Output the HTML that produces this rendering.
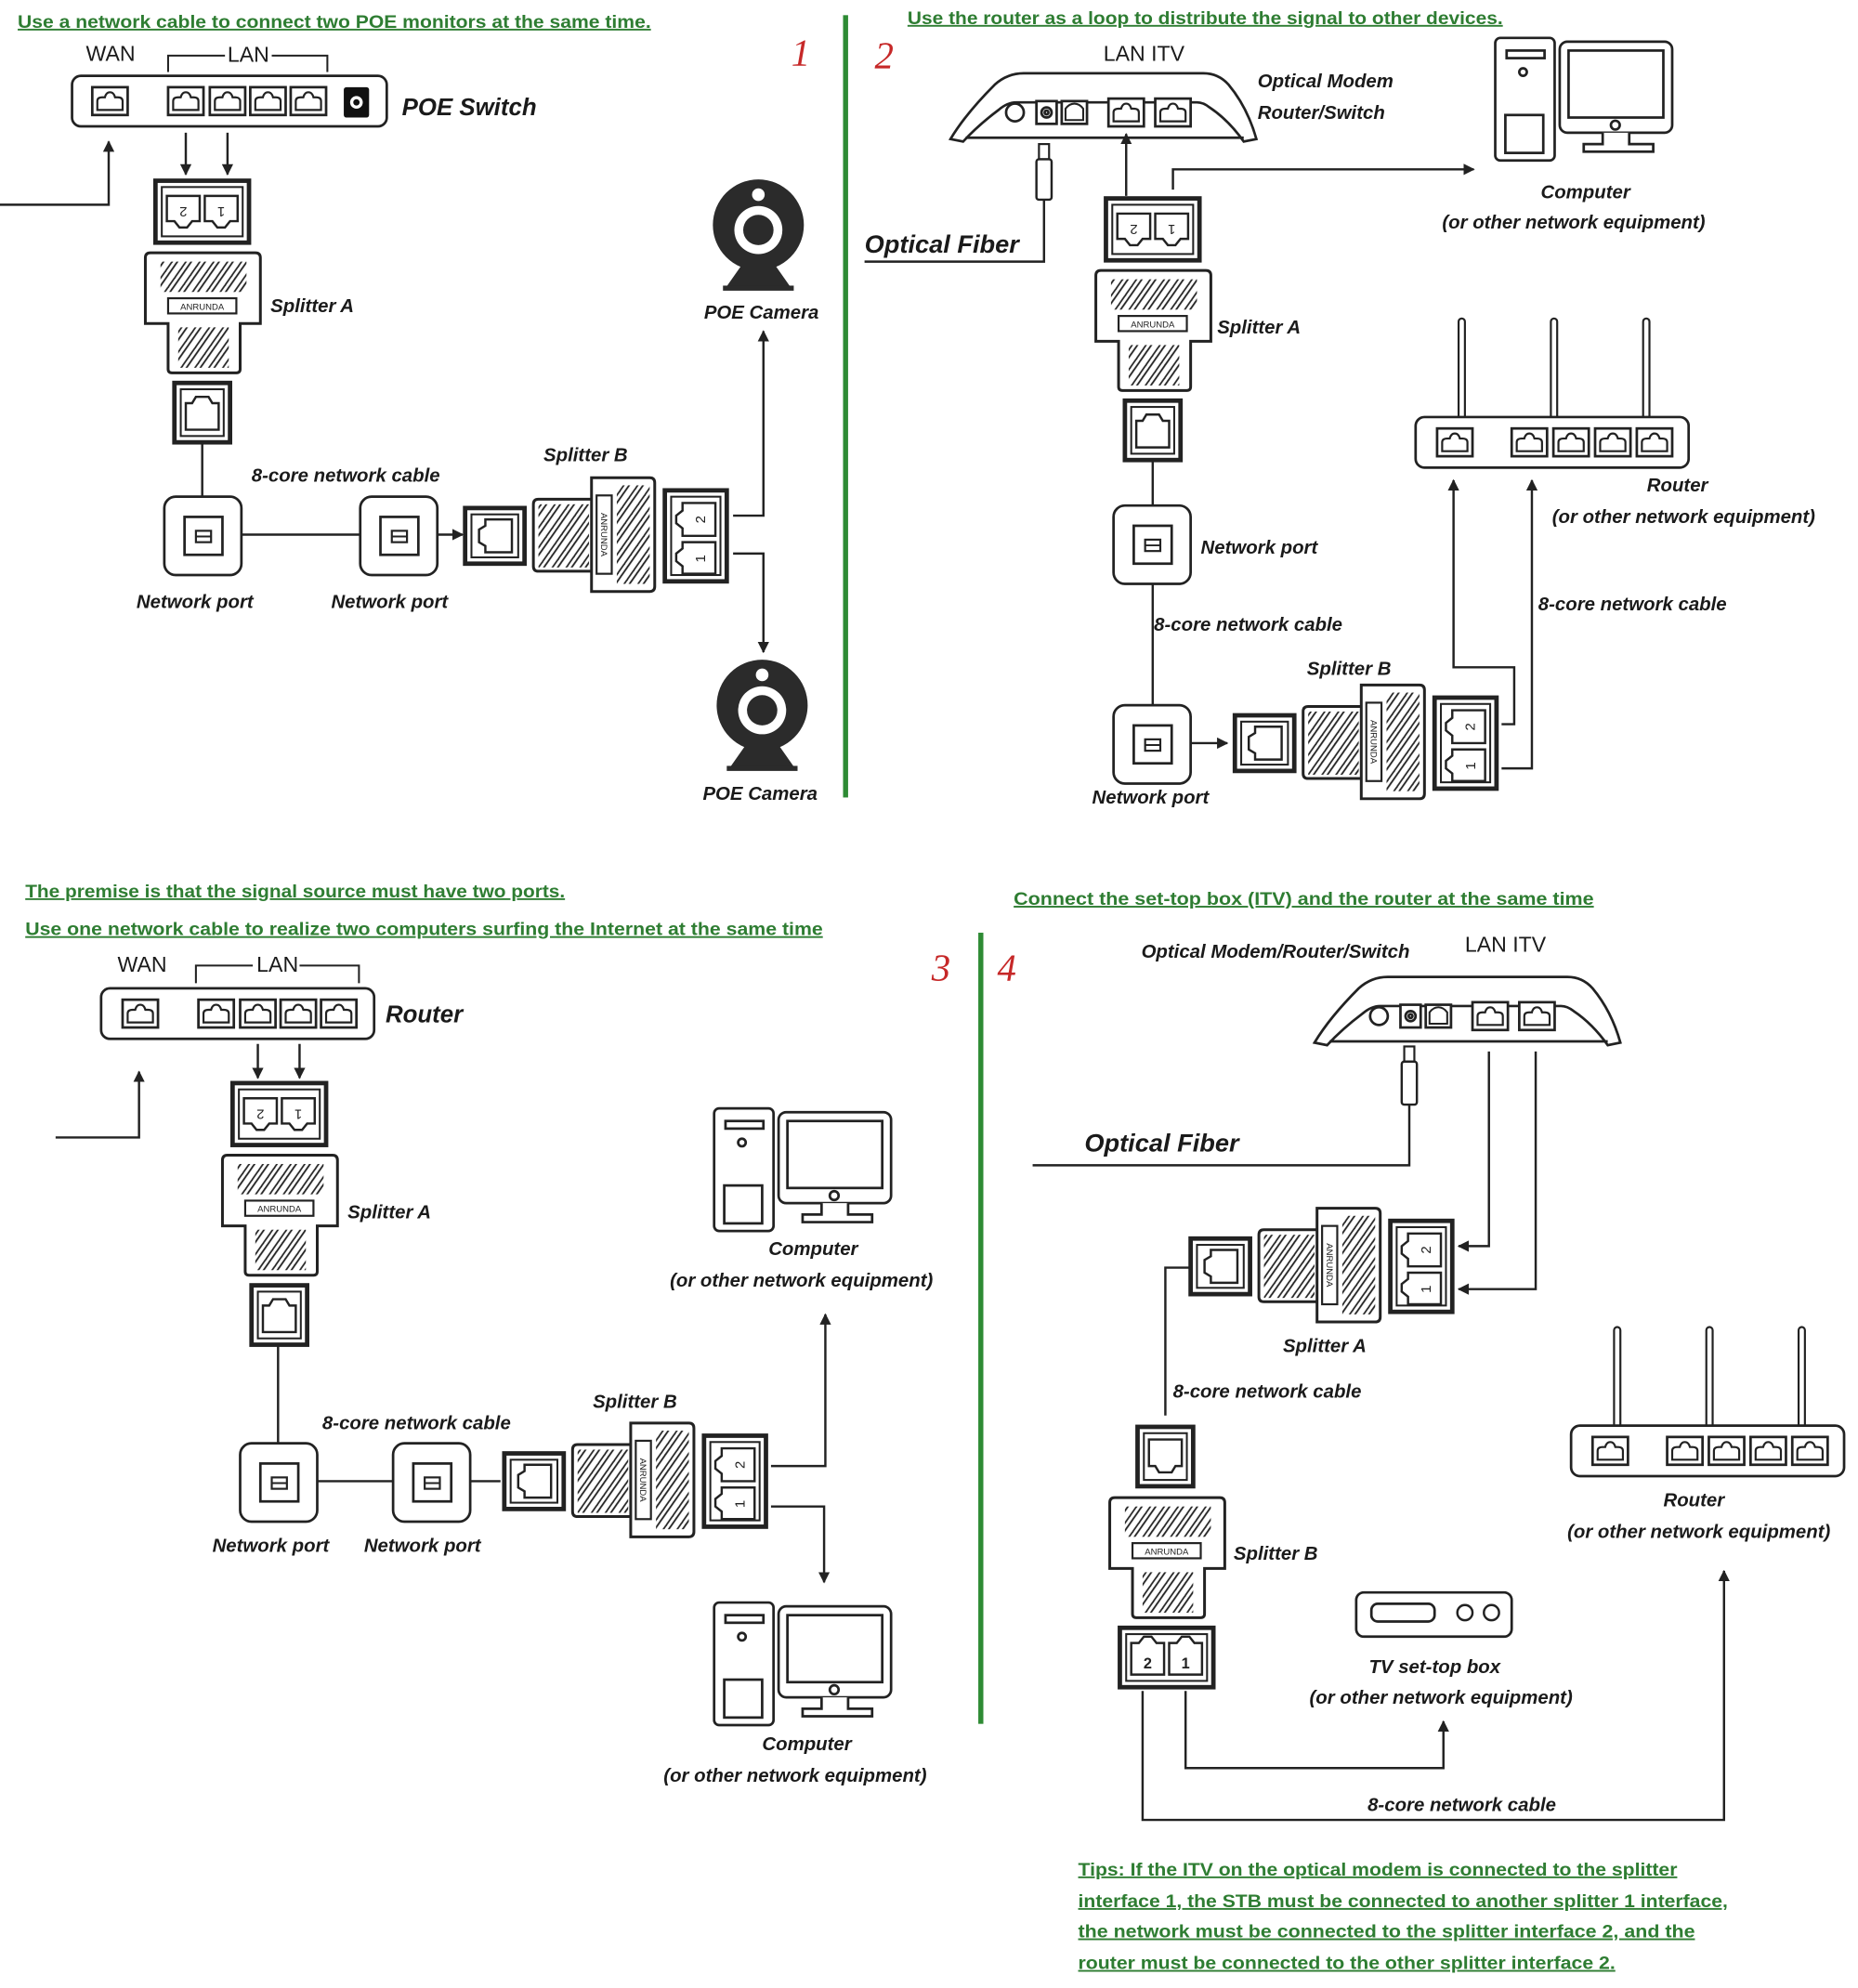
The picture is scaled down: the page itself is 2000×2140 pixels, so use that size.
<!DOCTYPE html>
<html><head><meta charset="utf-8"><style>
html,body{margin:0;padding:0;background:#fff;}
svg{display:block;}
.l{font-family:"Liberation Sans",sans-serif;font-style:italic;font-weight:bold;font-size:15px;fill:#1a1a1a;}
.t{font-family:"Liberation Sans",sans-serif;font-size:17px;fill:#1a1a1a;}
.g{font-family:"Liberation Sans",sans-serif;font-weight:bold;font-size:14px;fill:#2e7d32;text-decoration:underline;}
.n{font-family:"Liberation Serif",serif;font-style:italic;font-size:30px;fill:#c62828;}
.big{font-family:"Liberation Sans",sans-serif;font-style:italic;font-weight:bold;font-size:20px;fill:#1a1a1a;}
.tiny{font-family:"Liberation Sans",sans-serif;font-size:7px;fill:#222;}
</style></head><body>
<svg width="2000" height="2140" viewBox="0 0 1470 1573" preserveAspectRatio="none" xmlns="http://www.w3.org/2000/svg">
<defs>
<marker id="ah" viewBox="0 0 10 10" refX="9" refY="5" markerWidth="9" markerHeight="9" markerUnits="userSpaceOnUse" orient="auto"><path d="M0,0 L10,5 L0,10 z" fill="#222"/></marker>
<pattern id="hatch" patternUnits="userSpaceOnUse" width="9" height="9" patternTransform="rotate(-55)"><rect width="9" height="9" fill="#fff"/><rect x="-1" y="2.5" width="11" height="3.5" rx="1.7" fill="none" stroke="#222" stroke-width="1.3"/></pattern>
<g id="pi"><rect x="-14" y="-11" width="28" height="22" fill="#fff" stroke="#222" stroke-width="2"/><path d="M-10,7 V0 Q-10,-3 -6,-3 L-4,-3 Q-3,-7 0,-7 Q3,-7 4,-3 L6,-3 Q10,-3 10,0 V7 Z" fill="none" stroke="#222" stroke-width="1.6"/></g>
<g id="wp"><rect x="0" y="0" width="61" height="62" rx="9" fill="#fff" stroke="#222" stroke-width="2"/><rect x="16" y="16" width="30" height="30" fill="none" stroke="#222" stroke-width="2"/><rect x="25" y="27" width="12" height="9" fill="none" stroke="#222" stroke-width="1.6"/><line x1="25" y1="31.5" x2="37" y2="31.5" stroke="#222" stroke-width="1.4"/></g>
<g id="jack"><rect x="0" y="0" width="44" height="47" fill="#fff" stroke="#222" stroke-width="3.5"/><rect x="5" y="5" width="34" height="37" fill="none" stroke="#222" stroke-width="1.5"/><path d="M9,37 V16 H14 L17,11 H27 L30,16 H35 V37 Z" fill="none" stroke="#222" stroke-width="1.8"/></g>
<g id="sbody" stroke="#222" fill="#fff">
 <path d="M-8,61 Q-8,57 -4,57 H79 Q83,57 83,61 V113 H67 V149 Q67,152 64,152 H13 Q10,152 10,149 V113 H-8 Z" stroke-width="2.2"/>
 <rect x="4" y="64" width="68" height="24" fill="url(#hatch)" stroke="none"/>
 <rect x="10" y="93" width="54" height="12" stroke-width="1.6"/>
 <text x="37" y="102" class="tiny" text-anchor="middle" stroke="none">ANRUNDA</text>
 <rect x="18" y="116" width="40" height="32" fill="url(#hatch)" stroke="none"/>
</g>
<g id="splitV" stroke="#222" fill="#fff">
 <rect x="0" y="0" width="74" height="49" stroke-width="3.5"/>
 <rect x="5" y="5" width="64" height="39" stroke-width="1.5"/>
 <path d="M9,12 H35 V32 H29 L25,37 H19 L15,32 H9 Z" stroke-width="1.8"/>
 <path d="M39,12 H65 V32 H59 L55,37 H49 L45,32 H39 Z" stroke-width="1.8"/>
 <text x="22" y="21" class="tiny" style="font-size:11px" transform="rotate(180 22 21)" text-anchor="middle" stroke="none">2</text>
 <text x="52" y="21" class="tiny" style="font-size:11px" transform="rotate(180 52 21)" text-anchor="middle" stroke="none">1</text>
 <use href="#sbody"/>
 <use href="#jack" x="15" y="160"/>
</g>
<g id="splitH" stroke="#222" fill="#fff">
 <use href="#jack" transform="translate(0,44) rotate(-90)"/>
 <path d="M100,-7 H58 Q54,-7 54,-3 V46 Q54,50 58,50 H100" stroke-width="2.2"/>
 <rect x="58" y="-3" width="40" height="50" fill="url(#hatch)" stroke="none"/>
 <path d="M100,-24 H146 Q150,-24 150,-20 V62 Q150,66 146,66 H100 Z" stroke-width="2.2"/>
 <rect x="120" y="-18" width="26" height="78" fill="url(#hatch)" stroke="none"/>
 <rect x="104" y="-10" width="12" height="62" stroke-width="1.6"/>
 <text x="0" y="0" class="tiny" text-anchor="middle" stroke="none" transform="translate(107.5,21) rotate(90)">ANRUNDA</text>
 <rect x="158" y="-14" width="49" height="72" stroke-width="3.5"/>
 <rect x="163" y="-9" width="39" height="62" stroke-width="1.5"/>
 <path d="M198,-4 V22 H172 V16 L167,12 V6 L172,2 V-4 Z" stroke-width="1.8"/>
 <path d="M198,27 V52 H172 V46 L167,42 V36 L172,32 V27 Z" stroke-width="1.8"/>
 <text x="186" y="13" class="tiny" style="font-size:11px" transform="rotate(-90 186 9)" text-anchor="middle" stroke="none">2</text>
 <text x="186" y="44" class="tiny" style="font-size:11px" transform="rotate(-90 186 40)" text-anchor="middle" stroke="none">1</text>
</g>
<g id="cam">
 <circle cx="0" cy="0" r="36" fill="#2b2b2b"/>
 <circle cx="0" cy="4" r="19" fill="#fff"/>
 <circle cx="0" cy="4" r="12" fill="#2b2b2b"/>
 <circle cx="0" cy="-24" r="5" fill="#fff"/>
 <path d="M-12,30 L-26,50 H26 L12,30 Z" fill="#2b2b2b"/>
 <rect x="-28" y="48" width="56" height="4" fill="#2b2b2b"/>
</g>
<g id="pc" fill="#fff" stroke="#222" stroke-width="2">
 <rect x="0" y="0" width="47" height="97" rx="4"/>
 <rect x="9" y="10" width="30" height="6"/>
 <circle cx="22" cy="27" r="3"/>
 <rect x="8" y="61" width="30" height="30"/>
 <rect x="51" y="3" width="89" height="72" rx="6"/>
 <rect x="58" y="10" width="75" height="53"/>
 <circle cx="95" cy="69" r="3.5"/>
 <path d="M85,75 V84 H70 V90 H125 V84 H106 V75" />
</g>
<g id="rtr" fill="#fff" stroke="#222">
 <rect x="34" y="0" width="5" height="80" rx="2.5" stroke-width="1.6"/>
 <rect x="107" y="0" width="5" height="80" rx="2.5" stroke-width="1.6"/>
 <rect x="180" y="0" width="5" height="80" rx="2.5" stroke-width="1.6"/>
 <rect x="0" y="78" width="216" height="40" rx="7" stroke-width="2"/>
 <use href="#pi" x="31" y="98"/><use href="#pi" x="90" y="98"/><use href="#pi" x="123" y="98"/><use href="#pi" x="156" y="98"/><use href="#pi" x="189" y="98"/>
</g>
<g id="modem" fill="#fff" stroke="#222" stroke-width="2">
 <path d="M0,55 Q12,35 35,12 Q45,3 58,3 H200 Q212,3 220,12 Q235,30 242,55 L232,57 Q220,40 205,30 Q200,26 195,26 H52 Q45,26 38,32 Q22,44 10,57 Z"/>
 <line x1="12" y1="54" x2="232" y2="54"/>
 <circle cx="51" cy="34" r="7"/>
 <rect x="68" y="25" width="16" height="18"/><circle cx="76" cy="34" r="4"/><circle cx="76" cy="34" r="1.5"/>
 <rect x="88" y="25" width="20" height="18"/><path d="M91,40 V31 Q94,27 98,27 Q102,27 105,31 V40 Z" stroke-width="1.5"/>
 <use href="#pi" x="139" y="34"/><use href="#pi" x="176" y="34"/>
</g>
</defs>

<!-- dividers and numbers -->
<rect x="667" y="12" width="4" height="619" fill="#2e8b34"/>
<rect x="774" y="738" width="4" height="626" fill="#2e8b34"/>
<text x="626" y="52" class="n">1</text>
<text x="692" y="54" class="n">2</text>
<text x="737" y="776" class="n">3</text>
<text x="789" y="776" class="n">4</text>

<!-- ========== PANEL 1 ========== -->
<text x="14" y="22" class="g" textLength="501" lengthAdjust="spacingAndGlyphs">Use a network cable to connect two POE monitors at the same time.</text>
<text x="68" y="48" class="t">WAN</text>
<path d="M133,57 V44 H178 M215,44 H259 V57" fill="none" stroke="#222" stroke-width="1.5"/>
<text x="180" y="49" class="t">LAN</text>
<rect x="57" y="60" width="249" height="40" rx="7" fill="#fff" stroke="#222" stroke-width="2"/>
<use href="#pi" x="87" y="80"/><use href="#pi" x="147" y="80"/><use href="#pi" x="180" y="80"/><use href="#pi" x="212" y="80"/><use href="#pi" x="244" y="80"/>
<rect x="272" y="69" width="20" height="24" rx="2" fill="#111"/><circle cx="282" cy="81" r="5" fill="#fff"/><circle cx="282" cy="81" r="2.5" fill="#111"/>
<text x="318" y="91" class="big" style="font-size:19px">POE Switch</text>
<path d="M0,162 H86 V112" fill="none" stroke="#222" stroke-width="1.8" marker-end="url(#ah)"/>
<line x1="147" y1="105" x2="147" y2="138" stroke="#222" stroke-width="1.8" marker-end="url(#ah)"/>
<line x1="180" y1="105" x2="180" y2="138" stroke="#222" stroke-width="1.8" marker-end="url(#ah)"/>
<use href="#splitV" x="123" y="143"/>
<text x="214" y="247" class="l">Splitter A</text>
<line x1="160" y1="350" x2="160" y2="393" stroke="#222" stroke-width="1.8"/>
<use href="#wp" x="130" y="393"/><use href="#wp" x="285" y="393"/>
<line x1="191" y1="423" x2="285" y2="423" stroke="#222" stroke-width="1.8"/>
<text x="199" y="381" class="l">8-core network cable</text>
<text x="108" y="481" class="l">Network port</text>
<text x="262" y="481" class="l">Network port</text>
<line x1="346" y1="423" x2="366" y2="423" stroke="#222" stroke-width="1.8" marker-end="url(#ah)"/>
<use href="#splitH" x="368" y="402"/>
<text x="430" y="365" class="l">Splitter B</text>
<path d="M580,408 H604 V262" fill="none" stroke="#222" stroke-width="1.8" marker-end="url(#ah)"/>
<path d="M580,438 H604 V516" fill="none" stroke="#222" stroke-width="1.8" marker-end="url(#ah)"/>
<use href="#cam" x="600" y="178"/>
<text x="557" y="252" class="l">POE Camera</text>
<use href="#cam" x="603" y="558"/>
<text x="556" y="633" class="l">POE Camera</text>

<!-- ========== PANEL 2 ========== -->
<text x="718" y="19" class="g" textLength="471" lengthAdjust="spacingAndGlyphs">Use the router as a loop to distribute the signal to other devices.</text>
<text x="873" y="48" class="t">LAN  ITV</text>
<use href="#modem" x="752" y="55"/>
<text x="995" y="69" class="l">Optical Modem</text>
<text x="995" y="94" class="l">Router/Switch</text>
<rect x="822" y="114" width="8" height="12" fill="#fff" stroke="#222" stroke-width="1.6"/>
<rect x="820" y="126" width="12" height="32" rx="2" fill="#fff" stroke="#222" stroke-width="1.8"/>
<path d="M826,158 V207 H684" fill="none" stroke="#222" stroke-width="1.8"/>
<text x="684" y="200" class="big">Optical Fiber</text>
<line x1="891" y1="155" x2="891" y2="106" stroke="#222" stroke-width="1.8" marker-end="url(#ah)"/>
<path d="M928,150 V134 H1166" fill="none" stroke="#222" stroke-width="1.8" marker-end="url(#ah)"/>
<use href="#pc" x="1183" y="30"/>
<text x="1219" y="157" class="l">Computer</text>
<text x="1141" y="181" class="l">(or other network equipment)</text>
<use href="#splitV" x="875" y="157"/>
<text x="963" y="264" class="l">Splitter A</text>
<line x1="912" y1="364" x2="912" y2="400" stroke="#222" stroke-width="1.8"/>
<use href="#wp" x="881" y="400"/>
<text x="950" y="438" class="l">Network port</text>
<line x1="912" y1="462" x2="912" y2="558" stroke="#222" stroke-width="1.8"/>
<text x="913" y="499" class="l">8-core network cable</text>
<use href="#wp" x="881" y="558"/>
<text x="864" y="636" class="l">Network port</text>
<line x1="942" y1="588" x2="971" y2="588" stroke="#222" stroke-width="1.8" marker-end="url(#ah)"/>
<use href="#splitH" x="977" y="566"/>
<text x="1034" y="534" class="l">Splitter B</text>
<path d="M1188,573 H1198 V528 H1150 V380" fill="none" stroke="#222" stroke-width="1.8" marker-end="url(#ah)"/>
<path d="M1188,608 H1212 V380" fill="none" stroke="#222" stroke-width="1.8" marker-end="url(#ah)"/>
<use href="#rtr" x="1120" y="252"/>
<text x="1303" y="389" class="l">Router</text>
<text x="1228" y="414" class="l">(or other network equipment)</text>
<text x="1217" y="483" class="l">8-core network cable</text>

<!-- ========== PANEL 3 ========== -->
<text x="20" y="710" class="g" textLength="427" lengthAdjust="spacingAndGlyphs">The premise is that the signal source must have two ports.</text>
<text x="20" y="740" class="g" textLength="631" lengthAdjust="spacingAndGlyphs">Use one network cable to realize two computers surfing the Internet at the same time</text>
<text x="93" y="769" class="t">WAN</text>
<path d="M155,778 V764 H200 M237,764 H284 V778" fill="none" stroke="#222" stroke-width="1.5"/>
<text x="203" y="769" class="t">LAN</text>
<rect x="80" y="782" width="216" height="40" rx="7" fill="#fff" stroke="#222" stroke-width="2"/>
<use href="#pi" x="111" y="802"/><use href="#pi" x="171" y="802"/><use href="#pi" x="204" y="802"/><use href="#pi" x="236" y="802"/><use href="#pi" x="268" y="802"/>
<text x="305" y="809" class="big" style="font-size:19px">Router</text>
<path d="M44,900 H110 V848" fill="none" stroke="#222" stroke-width="1.8" marker-end="url(#ah)"/>
<line x1="204" y1="826" x2="204" y2="853" stroke="#222" stroke-width="1.8" marker-end="url(#ah)"/>
<line x1="237" y1="826" x2="237" y2="853" stroke="#222" stroke-width="1.8" marker-end="url(#ah)"/>
<use href="#splitV" x="184" y="857"/>
<text x="275" y="964" class="l">Splitter A</text>
<line x1="220" y1="1064" x2="220" y2="1142" stroke="#222" stroke-width="1.8"/>
<use href="#wp" x="190" y="1142"/><use href="#wp" x="311" y="1142"/>
<line x1="251" y1="1172" x2="311" y2="1172" stroke="#222" stroke-width="1.8"/>
<text x="255" y="1131" class="l">8-core network cable</text>
<text x="168" y="1228" class="l">Network port</text>
<text x="288" y="1228" class="l">Network port</text>
<line x1="372" y1="1172" x2="396" y2="1172" stroke="#222" stroke-width="1.8"/>
<use href="#splitH" x="399" y="1150"/>
<text x="469" y="1114" class="l">Splitter B</text>
<path d="M610,1160 H653 V1040" fill="none" stroke="#222" stroke-width="1.8" marker-end="url(#ah)"/>
<path d="M610,1192 H652 V1252" fill="none" stroke="#222" stroke-width="1.8" marker-end="url(#ah)"/>
<use href="#pc" x="565" y="877"/>
<text x="608" y="993" class="l">Computer</text>
<text x="530" y="1018" class="l">(or other network equipment)</text>
<use href="#pc" x="565" y="1268"/>
<text x="603" y="1385" class="l">Computer</text>
<text x="525" y="1410" class="l">(or other network equipment)</text>

<!-- ========== PANEL 4 ========== -->
<text x="802" y="716" class="g" textLength="459" lengthAdjust="spacingAndGlyphs">Connect the set-top box (ITV) and the router at the same time</text>
<text x="903" y="758" class="l">Optical Modem/Router/Switch</text>
<text x="1159" y="753" class="t">LAN  ITV</text>
<use href="#modem" x="1040" y="770"/>
<rect x="1111" y="828" width="8" height="12" fill="#fff" stroke="#222" stroke-width="1.6"/>
<rect x="1109" y="840" width="12" height="34" rx="2" fill="#fff" stroke="#222" stroke-width="1.8"/>
<path d="M1115,874 V922 H817" fill="none" stroke="#222" stroke-width="1.8"/>
<text x="858" y="911" class="big">Optical Fiber</text>
<path d="M1178,832 V986 H1154" fill="none" stroke="#222" stroke-width="1.8" marker-end="url(#ah)"/>
<path d="M1215,832 V1020 H1154" fill="none" stroke="#222" stroke-width="1.8" marker-end="url(#ah)"/>
<use href="#splitH" x="942" y="980"/>
<text x="1015" y="1070" class="l">Splitter A</text>
<path d="M942,1003 H922 V1120" fill="none" stroke="#222" stroke-width="1.8"/>
<text x="928" y="1106" class="l">8-core network cable</text>
<!-- Splitter B (panel 4) -->
<use href="#jack" transform="translate(900,1176) scale(1,-1)"/>
<use href="#sbody" x="886" y="1128"/>
<g stroke="#222" fill="#fff">
 <rect x="886" y="1288" width="74" height="47" stroke-width="3.5"/>
 <rect x="891" y="1293" width="64" height="37" stroke-width="1.5"/>
 <path d="M895,1325 H921 V1300 H915 L911,1295 H905 L901,1300 H895 Z" stroke-width="1.8"/>
 <path d="M925,1325 H951 V1300 H945 L941,1295 H935 L931,1300 H925 Z" stroke-width="1.8"/>
 <text x="908" y="1320" class="tiny" style="font-size:12px;font-weight:bold" text-anchor="middle" stroke="none">2</text>
 <text x="938" y="1320" class="tiny" style="font-size:12px;font-weight:bold" text-anchor="middle" stroke="none">1</text>
</g>
<text x="976" y="1234" class="l">Splitter B</text>
<rect x="1073" y="1260" width="123" height="35" rx="6" fill="#fff" stroke="#222" stroke-width="2"/>
<rect x="1085" y="1269" width="50" height="14" rx="5" fill="#fff" stroke="#222" stroke-width="2"/>
<circle cx="1159" cy="1276" r="6" fill="#fff" stroke="#222" stroke-width="1.8"/>
<circle cx="1180" cy="1276" r="6" fill="#fff" stroke="#222" stroke-width="1.8"/>
<text x="1083" y="1324" class="l">TV set-top box</text>
<text x="1036" y="1348" class="l">(or other network equipment)</text>
<path d="M938,1338 V1399 H1142 V1362" fill="none" stroke="#222" stroke-width="1.8" marker-end="url(#ah)"/>
<path d="M904,1338 V1440 H1364 V1243" fill="none" stroke="#222" stroke-width="1.8" marker-end="url(#ah)"/>
<text x="1082" y="1433" class="l">8-core network cable</text>
<use href="#rtr" x="1243" y="1050"/>
<text x="1316" y="1192" class="l">Router</text>
<text x="1240" y="1217" class="l">(or other network equipment)</text>
<text x="853" y="1484" class="g" textLength="474" lengthAdjust="spacingAndGlyphs">Tips: If the ITV on the optical modem is connected to the splitter</text>
<text x="853" y="1509" class="g" textLength="514" lengthAdjust="spacingAndGlyphs">interface 1, the STB must be connected to another splitter 1 interface,</text>
<text x="853" y="1533" class="g" textLength="488" lengthAdjust="spacingAndGlyphs">the network must be connected to the splitter interface 2, and the</text>
<text x="853" y="1558" class="g" textLength="425" lengthAdjust="spacingAndGlyphs">router must be connected to the other splitter interface 2.</text>
</svg>
</body></html>
